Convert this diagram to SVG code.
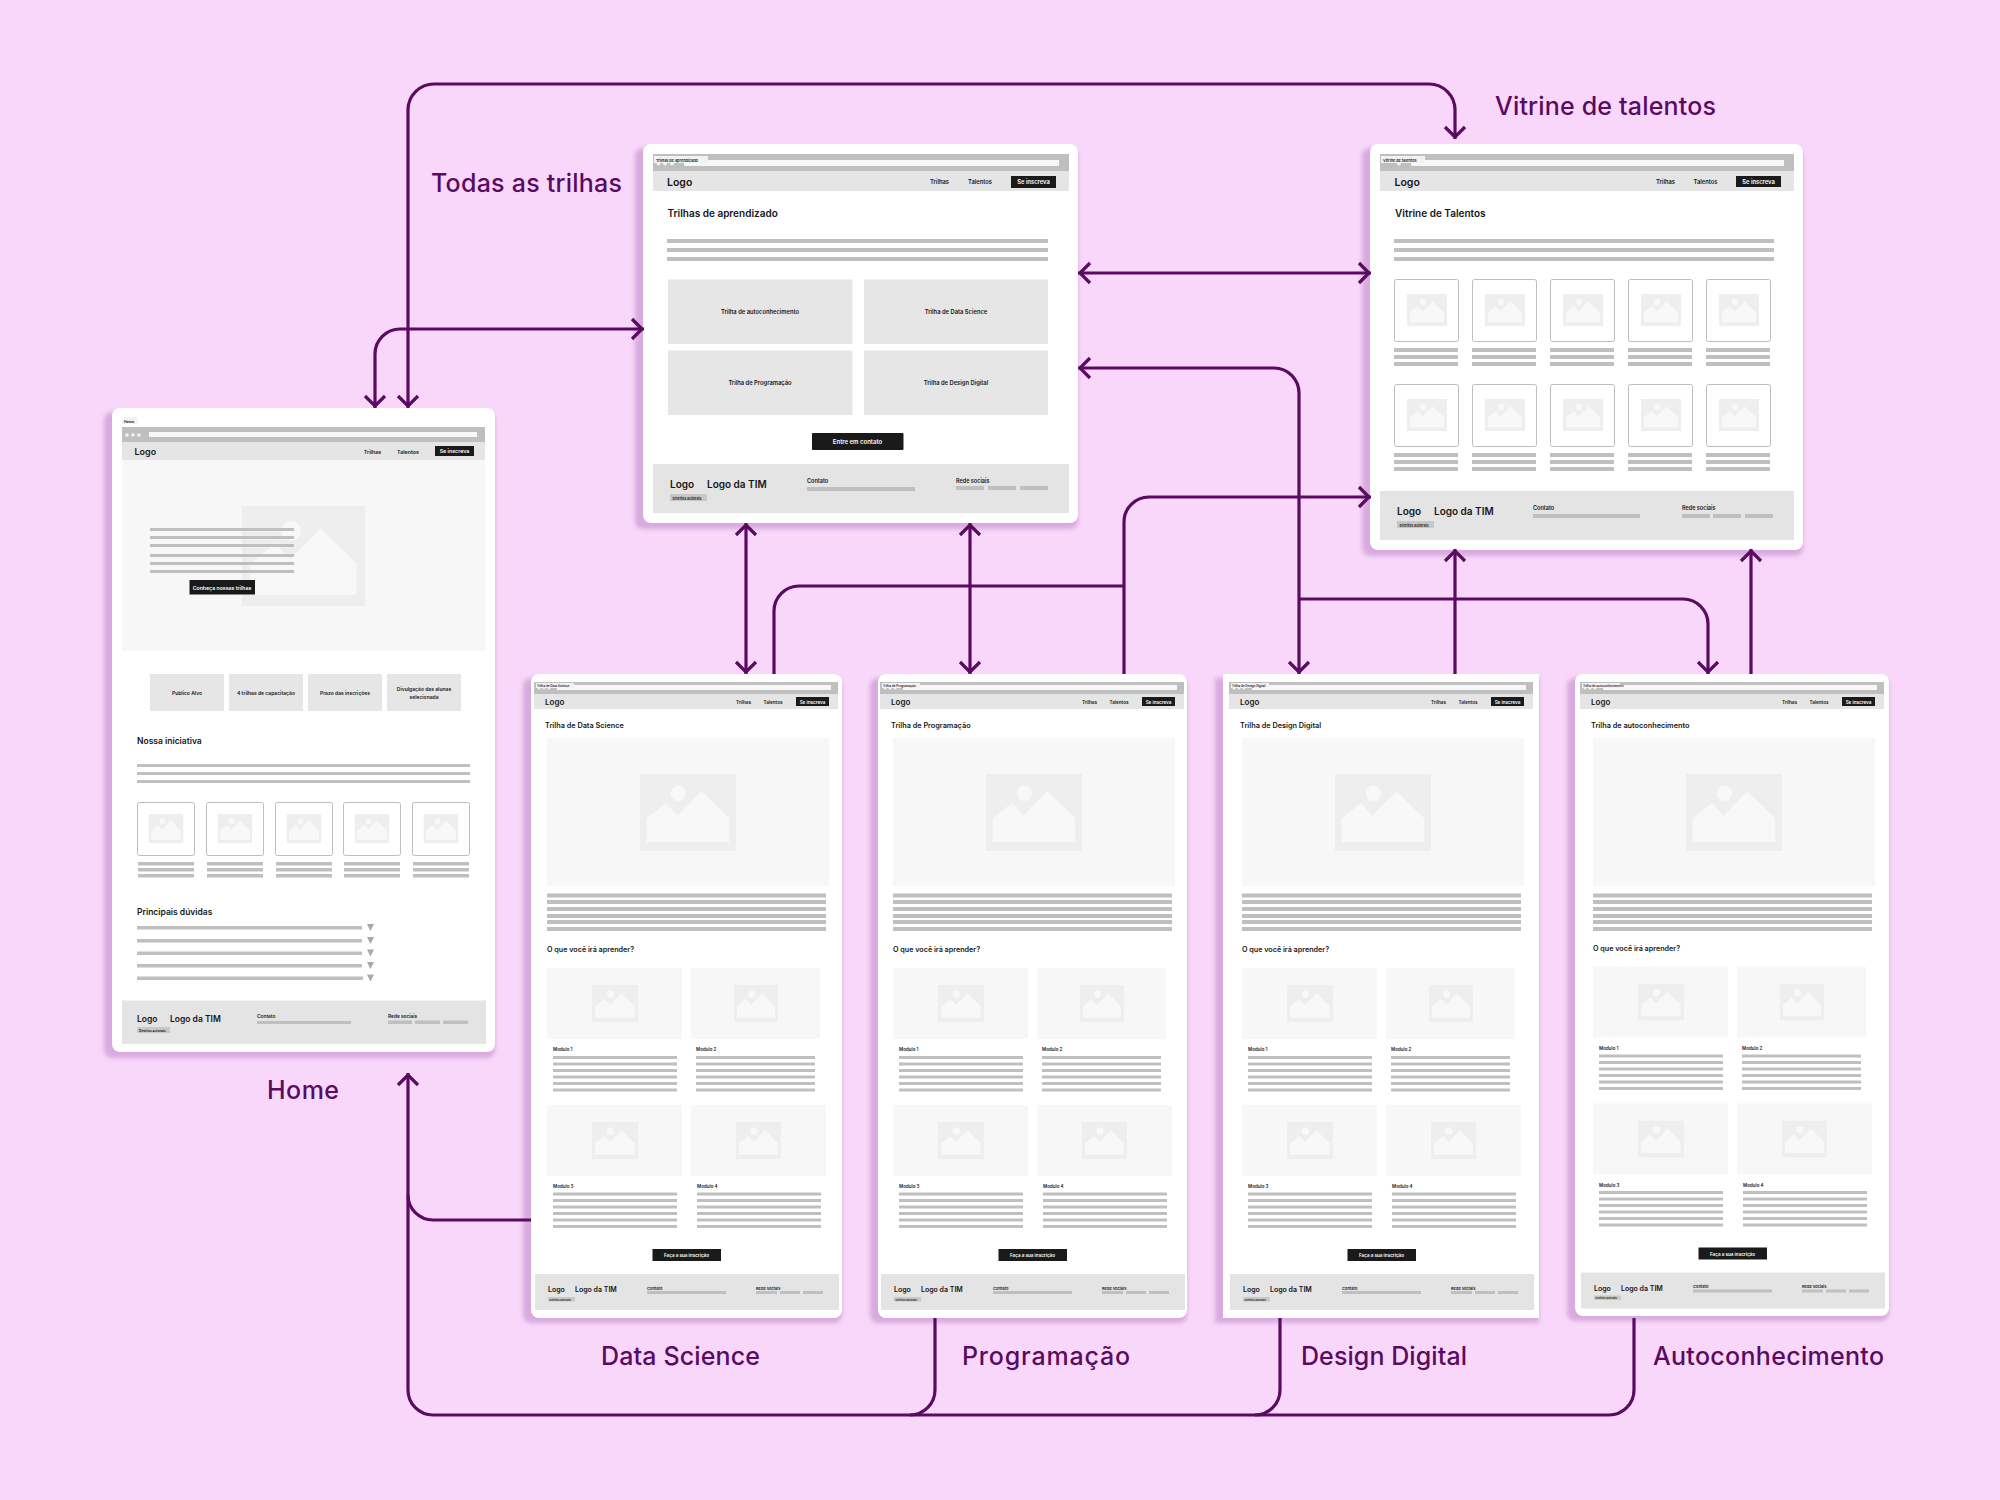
<svg xmlns="http://www.w3.org/2000/svg" xmlns:xlink="http://www.w3.org/1999/xlink" width="2000" height="1500" viewBox="0 0 2000 1500">
<style>
text{font-family:Inter,"Liberation Sans",sans-serif;fill:#161616}
.lab{font-size:25px;fill:#5a0a61;font-weight:500}
.card{fill:#fff}
.sh{fill:#d3a3d9;opacity:.85;filter:url(#blur)}
.b{fill:#bfbfbf}
.bar{fill:#bfbfbf}
.addr{fill:#f7f7f7}
.nav{fill:#e5e5e5}
.foot{fill:#e4e4e4}
.soft{fill:#f7f7f7}
.box{fill:#e6e6e6}
.btn{fill:#1a1a1a}
.tab{fill:#f2f2f2}
.frame{fill:#fff;stroke:#bdbdbd;stroke-width:1}
.tag{fill:#c8c8c8}
.dot{fill:#f2f2f2}
.w{fill:#fff}
.m{font-weight:600}
.s{font-weight:600}
.c{text-anchor:middle}
.conn path{fill:none;stroke:#5a0a61;stroke-width:3.2}
</style>
<defs>
<filter id="blur" x="-10%" y="-10%" width="120%" height="120%"><feGaussianBlur stdDeviation="2"/></filter>
<symbol id="pic" viewBox="0 0 100 80" preserveAspectRatio="none">
<rect width="100" height="80" fill="#eeeeee"/>
<path d="M7 71V46L27 30 39 43 64 18 93 46V71Z" fill="#f8f8f8"/>
<circle cx="40" cy="20" r="8" fill="#f8f8f8"/>
</symbol>
<marker id="ah" viewBox="-12 -13 16 26" refX="2" refY="0" markerWidth="16" markerHeight="26" markerUnits="userSpaceOnUse" orient="auto-start-reverse">
<path d="M-10 -10L0 0L-10 10" fill="none" stroke="#5a0a61" stroke-width="3.2"/>
</marker>
<g id="tile">
<rect class="frame" x="0.5" y="0.5" width="64" height="62" rx="2"/>
<use href="#pic" x="13" y="15" width="40" height="32"/>
<rect class="b" x="0" y="69" width="64" height="4"/>
<rect class="b" x="0" y="76" width="64" height="4"/>
<rect class="b" x="0" y="83" width="64" height="4"/>
</g>
<g id="htile">
<rect class="frame" x="0.5" y="0.5" width="57" height="53" rx="2"/>
<use href="#pic" x="11.5" y="12" width="35" height="29"/>
<rect class="b" x="1" y="60" width="56" height="3.5"/>
<rect class="b" x="1" y="66" width="56" height="3.5"/>
<rect class="b" x="1" y="72" width="56" height="3.5"/>
</g>
<g id="track-top">
<rect class="bar" x="534" y="682" width="304" height="12"/>
<rect class="addr" x="557" y="685" width="274" height="5"/>
<circle class="dot" cx="539" cy="688" r="1.5"/><circle class="dot" cx="544" cy="688" r="1.5"/><circle class="dot" cx="549" cy="688" r="1.5"/>
<rect class="nav" x="534" y="694" width="304" height="15"/>
<rect class="btn" x="796" y="697" width="33" height="9"/>
<rect class="soft" x="547" y="738" width="282" height="148"/>
<use href="#pic" x="640" y="774" width="96" height="77"/>
<rect class="b" x="547" y="893.5" width="279" height="4"/>
<rect class="b" x="547" y="900" width="279" height="4"/>
<rect class="b" x="547" y="907" width="279" height="4"/>
<rect class="b" x="547" y="914" width="279" height="4"/>
<rect class="b" x="547" y="920" width="279" height="4"/>
<rect class="b" x="547" y="927" width="279" height="4"/>
</g>
<g id="six-a">
<rect class="b" x="0" y="0" width="124" height="3"/><rect class="b" x="0" y="6.5" width="124" height="3"/><rect class="b" x="0" y="13" width="124" height="3"/><rect class="b" x="0" y="19.5" width="124" height="3"/><rect class="b" x="0" y="26" width="124" height="3"/><rect class="b" x="0" y="32.5" width="124" height="3"/>
</g>
<g id="six-b">
<rect class="b" x="0" y="0" width="119" height="3"/><rect class="b" x="0" y="6.5" width="119" height="3"/><rect class="b" x="0" y="13" width="119" height="3"/><rect class="b" x="0" y="19.5" width="119" height="3"/><rect class="b" x="0" y="26" width="119" height="3"/><rect class="b" x="0" y="32.5" width="119" height="3"/>
</g>
<g id="track-bottom">
<rect class="soft" x="547" y="968" width="135" height="71"/>
<rect class="soft" x="691" y="968" width="129" height="71"/>
<use href="#pic" x="592" y="985" width="46" height="37"/>
<use href="#pic" x="734" y="985" width="44" height="37"/>
<use href="#six-a" x="553" y="1056"/>
<use href="#six-b" x="696" y="1056"/>
<rect class="soft" x="547" y="1105" width="135" height="71"/>
<rect class="soft" x="691" y="1105" width="135" height="71"/>
<use href="#pic" x="592" y="1122" width="46" height="37"/>
<use href="#pic" x="736" y="1122" width="45" height="37"/>
<use href="#six-a" x="553" y="1192.5"/>
<use href="#six-a" x="697" y="1192.5"/>
<rect class="btn" x="652.5" y="1249" width="68.5" height="12"/>
<rect class="foot" x="535" y="1274" width="304" height="36"/>
<rect class="tag" x="548" y="1297" width="27" height="4.5"/>
<rect class="b" x="647" y="1291" width="79" height="3"/>
<rect class="b" x="756" y="1291" width="21" height="3"/>
<rect class="b" x="780" y="1291" width="20" height="3"/>
<rect class="b" x="803" y="1291" width="20" height="3"/>
</g>
</defs>

<rect id="background" width="2000" height="1500" fill="#f8d7fa"/>

<g id="node-home">
<rect class="sh" x="104" y="412" width="391" height="646" rx="8"/>
<rect class="card" x="112" y="408" width="383" height="644" rx="8"/>
<rect class="tab" x="122" y="417" width="15.5" height="7" rx="1.5"/>
<text x="124" y="422.5" font-size="3.5" class="s">Home</text>
<rect class="bar" x="122" y="427" width="363" height="15"/>
<rect class="addr" x="149" y="432" width="328" height="5"/>
<circle class="dot" cx="127" cy="435" r="1.8"/><circle class="dot" cx="133" cy="435" r="1.8"/><circle class="dot" cx="139" cy="435" r="1.8"/>
<rect class="nav" x="122" y="442" width="363" height="18"/>
<text x="134.500" y="455" font-size="9" class="m">Logo</text>
<text x="372.500" y="453.500" font-size="5.300" class="c m">Trilhas</text>
<text x="408" y="453.500" font-size="5.300" class="c m">Talentos</text>
<rect class="btn" x="435" y="446" width="39" height="10"/>
<text x="454.500" y="453" font-size="5.300" class="c m" style="fill:#fff">Se inscreva</text>
<rect class="soft" x="122" y="460" width="363" height="191"/>
<use href="#pic" x="242" y="506" width="123" height="100"/>
<rect class="b" x="150" y="528" width="144" height="3"/>
<rect class="b" x="150" y="536" width="144" height="3"/>
<rect class="b" x="150" y="544" width="144" height="3"/>
<rect class="b" x="150" y="554" width="144" height="3"/>
<rect class="b" x="150" y="562" width="144" height="3"/>
<rect class="b" x="150" y="570" width="144" height="3"/>
<rect class="btn" x="189.500" y="580" width="65.500" height="14.500"/>
<text x="222" y="589.500" font-size="5.200" class="c m" style="fill:#fff">Conheça nossas trilhas</text>
<rect class="box" x="150" y="674" width="74" height="37"/>
<rect class="box" x="229" y="674" width="74" height="37"/>
<rect class="box" x="308" y="674" width="74" height="37"/>
<rect class="box" x="387" y="674" width="74" height="37"/>
<text x="187" y="694.500" font-size="5" class="c m">Publico Alvo</text>
<text x="266" y="694.500" font-size="5" class="c m">4 trilhas de capacitação</text>
<text x="345" y="694.500" font-size="5" class="c m">Prazo das inscrições</text>
<text x="424" y="690.500" font-size="5" class="c m">Divulgação das alunas</text>
<text x="424" y="698.500" font-size="5" class="c m">selecionada</text>
<text x="137" y="744" font-size="8.500" class="s">Nossa iniciativa</text>
<rect class="b" x="137" y="764" width="333" height="3"/>
<rect class="b" x="137" y="772" width="333" height="3"/>
<rect class="b" x="137" y="780" width="333" height="3"/>
<use href="#htile" x="137" y="802"/>
<use href="#htile" x="206" y="802"/>
<use href="#htile" x="275" y="802"/>
<use href="#htile" x="343" y="802"/>
<use href="#htile" x="412" y="802"/>
<text x="137" y="915" font-size="8.500" class="s">Principais dúvidas</text>
<rect class="b" x="137" y="926" width="225" height="3.500"/>
<rect class="b" x="137" y="939" width="225" height="3.500"/>
<rect class="b" x="137" y="951.500" width="225" height="3.500"/>
<rect class="b" x="137" y="964" width="225" height="3.500"/>
<rect class="b" x="137" y="976.500" width="226" height="3.500"/>
<path fill="#a9a9a9" d="M367 924h7l-3.500 7zM367 937h7l-3.500 7zM367 949.500h7l-3.500 7zM367 962h7l-3.500 7zM367 974.500h7l-3.500 7z"/>
<rect class="foot" x="122" y="1000.500" width="364" height="43.500"/>
<text x="137" y="1022" font-size="8.500" class="m">Logo</text>
<text x="170" y="1022" font-size="8.500" class="m">Logo da TIM</text>
<rect class="tag" x="137" y="1027" width="33" height="6"/>
<text x="139" y="1031.500" font-size="3.400" class="m">Direitos autorais</text>
<text x="257" y="1017.500" font-size="4.800" class="m">Contato</text>
<rect class="b" x="257" y="1021" width="94" height="3"/>
<text x="388" y="1017.500" font-size="4.800" class="m">Rede sociais</text>
<rect class="b" x="388" y="1020.500" width="24" height="3.500"/>
<rect class="b" x="415" y="1020.500" width="25" height="3.500"/>
<rect class="b" x="443" y="1020.500" width="25" height="3.500"/>
</g>

<g id="node-trilhas">
<rect class="sh" x="635" y="148" width="443" height="381" rx="8"/>
<rect class="card" x="643" y="144" width="435" height="379" rx="8"/>
<rect class="bar" x="653" y="154" width="416" height="17"/>
<rect class="addr" x="684" y="160" width="375" height="6"/>
<circle class="dot" cx="658.500" cy="163.500" r="2"/><circle class="dot" cx="665" cy="163.500" r="2"/><circle class="dot" cx="672" cy="163.500" r="2"/>
<rect class="tab" x="654" y="156" width="54" height="7"/>
<text x="656" y="161.500" font-size="3.800" class="m">Trilhas de aprendizado</text>
<rect class="nav" x="653" y="171" width="416" height="20"/>
<text x="667" y="186" font-size="10.500" class="m">Logo</text>
<text x="939.500" y="184" font-size="5.800" class="c m">Trilhas</text>
<text x="980" y="184" font-size="5.800" class="c m">Talentos</text>
<rect class="btn" x="1011" y="176" width="45" height="12"/>
<text x="1033.500" y="184" font-size="5.800" class="c m" style="fill:#fff">Se inscreva</text>
<text x="667.500" y="217" font-size="10" class="s">Trilhas de aprendizado</text>
<rect class="b" x="667" y="239" width="381" height="4"/>
<rect class="b" x="667" y="248" width="381" height="4"/>
<rect class="b" x="667" y="257" width="381" height="4"/>
<rect class="box" x="668" y="279.500" width="184.500" height="64.500"/>
<rect class="box" x="864" y="279.500" width="184" height="64.500"/>
<rect class="box" x="668" y="350.500" width="184.500" height="64.500"/>
<rect class="box" x="864" y="350.500" width="184" height="64.500"/>
<text x="760" y="314" font-size="5.800" class="c m">Trilha de autoconhecimento</text>
<text x="956" y="314" font-size="5.800" class="c m">Trilha de Data Science</text>
<text x="760" y="385" font-size="5.800" class="c m">Trilha de Programação</text>
<text x="956" y="385" font-size="5.800" class="c m">Trilha de Design Digital</text>
<rect class="btn" x="812" y="433" width="91.500" height="17" rx="1"/>
<text x="857.500" y="444" font-size="6" class="c m" style="fill:#fff">Entre em contato</text>
<rect class="foot" x="653" y="464" width="416" height="49"/>
<text x="670" y="488" font-size="10" class="m">Logo</text>
<text x="707" y="488" font-size="10" class="m">Logo da TIM</text>
<rect class="tag" x="670" y="494" width="37" height="7"/>
<text x="672.500" y="499.500" font-size="3.700" class="m">Direitos autorais</text>
<text x="807" y="482.500" font-size="5.500" class="m">Contato</text>
<rect class="b" x="807" y="487" width="108" height="4"/>
<text x="956" y="482.500" font-size="5.500" class="m">Rede sociais</text>
<rect class="b" x="956" y="486" width="28" height="4"/>
<rect class="b" x="988" y="486" width="28" height="4"/>
<rect class="b" x="1020" y="486" width="28" height="4"/>
</g>

<g id="node-vitrine">
<rect class="sh" x="1362" y="148" width="441" height="408" rx="8"/>
<rect class="card" x="1370" y="144" width="433" height="406" rx="8"/>
<rect class="bar" x="1380" y="154" width="414" height="17"/>
<rect class="addr" x="1411" y="160" width="373" height="6"/>
<circle class="dot" cx="1399" cy="163.500" r="2"/>
<rect class="tab" x="1381" y="156" width="44" height="7"/>
<text x="1383" y="161.500" font-size="3.800" class="m">Vitrine de talentos</text>
<rect class="nav" x="1380" y="171" width="414" height="20"/>
<text x="1394.500" y="186" font-size="10.500" class="m">Logo</text>
<text x="1665.500" y="184" font-size="5.800" class="c m">Trilhas</text>
<text x="1705.500" y="184" font-size="5.800" class="c m">Talentos</text>
<rect class="btn" x="1736" y="176" width="45" height="11"/>
<text x="1758.500" y="183.500" font-size="5.800" class="c m" style="fill:#fff">Se inscreva</text>
<text x="1395" y="217" font-size="10" class="s">Vitrine de Talentos</text>
<rect class="b" x="1394" y="239" width="380" height="4"/>
<rect class="b" x="1394" y="248" width="380" height="4"/>
<rect class="b" x="1394" y="257" width="380" height="4"/>
<use href="#tile" x="1394" y="279"/><use href="#tile" x="1472" y="279"/><use href="#tile" x="1550" y="279"/><use href="#tile" x="1628" y="279"/><use href="#tile" x="1706" y="279"/>
<use href="#tile" x="1394" y="384"/><use href="#tile" x="1472" y="384"/><use href="#tile" x="1550" y="384"/><use href="#tile" x="1628" y="384"/><use href="#tile" x="1706" y="384"/>
<rect class="foot" x="1380" y="491" width="414" height="49"/>
<text x="1397" y="515" font-size="10" class="m">Logo</text>
<text x="1434" y="515" font-size="10" class="m">Logo da TIM</text>
<rect class="tag" x="1397" y="521" width="37" height="7"/>
<text x="1399.500" y="526.500" font-size="3.700" class="m">Direitos autorais</text>
<text x="1533" y="509.500" font-size="5.500" class="m">Contato</text>
<rect class="b" x="1533" y="514" width="107" height="4"/>
<text x="1682" y="509.500" font-size="5.500" class="m">Rede sociais</text>
<rect class="b" x="1682" y="514" width="28" height="4"/>
<rect class="b" x="1713" y="514" width="28" height="4"/>
<rect class="b" x="1745" y="514" width="28" height="4"/>
</g>

<g id="node-data-science">
<rect class="sh" x="523" y="678" width="319" height="645" rx="8"/>
<rect class="card" x="531" y="674" width="311" height="644" rx="8"/>
<use href="#track-top"/><use href="#track-bottom"/>
<rect class="tab" x="536" y="683" width="38" height="5"/><text x="537" y="687" font-size="3" class="m">Trilha de Data Science</text>
<text x="545" y="705" font-size="8" class="m">Logo</text>
<text x="743.500" y="703.500" font-size="4.600" class="c m">Trilhas</text><text x="773" y="703.500" font-size="4.600" class="c m">Talentos</text><text x="812.500" y="703.500" font-size="4.600" class="c m" style="fill:#fff">Se inscreva</text>
<text x="545" y="728" font-size="7.300" class="s">Trilha de Data Science</text>
<text x="547" y="952" font-size="7.200" class="s">O que você irá aprender?</text>
<text x="553" y="1051" font-size="4.500" class="m">Modulo 1</text><text x="696" y="1051" font-size="4.500" class="m">Modulo 2</text><text x="553" y="1188" font-size="4.500" class="m">Modulo 3</text><text x="697" y="1188" font-size="4.500" class="m">Modulo 4</text>
<text x="686.500" y="1257" font-size="4.600" class="c m" style="fill:#fff">Faça a sua inscrição</text>
<text x="548" y="1292" font-size="7" class="m">Logo</text><text x="575" y="1292" font-size="7" class="m">Logo da TIM</text>
<text x="549.500" y="1300.500" font-size="2.700" class="m">Direitos autorais</text>
<text x="647" y="1289.500" font-size="4" class="m">Contato</text><text x="756" y="1289.500" font-size="4" class="m">Rede sociais</text>
</g>

<g id="node-programacao">
<rect class="sh" x="870" y="678" width="317" height="645" rx="8"/>
<rect class="card" x="878" y="674" width="309" height="644" rx="8"/>
<g transform="translate(346,0)">
<use href="#track-top"/><use href="#track-bottom"/>
<rect class="tab" x="536" y="683" width="38" height="5"/><text x="537" y="687" font-size="3" class="m">Trilha de Programação</text>
<text x="545" y="705" font-size="8" class="m">Logo</text>
<text x="743.500" y="703.500" font-size="4.600" class="c m">Trilhas</text><text x="773" y="703.500" font-size="4.600" class="c m">Talentos</text><text x="812.500" y="703.500" font-size="4.600" class="c m" style="fill:#fff">Se inscreva</text>
<text x="545" y="728" font-size="7.300" class="s">Trilha de Programação</text>
<text x="547" y="952" font-size="7.200" class="s">O que você irá aprender?</text>
<text x="553" y="1051" font-size="4.500" class="m">Modulo 1</text><text x="696" y="1051" font-size="4.500" class="m">Modulo 2</text><text x="553" y="1188" font-size="4.500" class="m">Modulo 3</text><text x="697" y="1188" font-size="4.500" class="m">Modulo 4</text>
<text x="686.500" y="1257" font-size="4.600" class="c m" style="fill:#fff">Faça a sua inscrição</text>
<text x="548" y="1292" font-size="7" class="m">Logo</text><text x="575" y="1292" font-size="7" class="m">Logo da TIM</text>
<text x="549.500" y="1300.500" font-size="2.700" class="m">Direitos autorais</text>
<text x="647" y="1289.500" font-size="4" class="m">Contato</text><text x="756" y="1289.500" font-size="4" class="m">Rede sociais</text>
</g>
</g>

<g id="node-design-digital">
<rect class="sh" x="1215" y="678" width="324" height="645"/>
<rect class="card" x="1223" y="674" width="316" height="644"/>
<g transform="translate(695,0)">
<use href="#track-top"/><use href="#track-bottom"/>
<rect class="tab" x="536" y="683" width="38" height="5"/><text x="537" y="687" font-size="3" class="m">Trilha de Design Digital</text>
<text x="545" y="705" font-size="8" class="m">Logo</text>
<text x="743.500" y="703.500" font-size="4.600" class="c m">Trilhas</text><text x="773" y="703.500" font-size="4.600" class="c m">Talentos</text><text x="812.500" y="703.500" font-size="4.600" class="c m" style="fill:#fff">Se inscreva</text>
<text x="545" y="728" font-size="7.300" class="s">Trilha de Design Digital</text>
<text x="547" y="952" font-size="7.200" class="s">O que você irá aprender?</text>
<text x="553" y="1051" font-size="4.500" class="m">Modulo 1</text><text x="696" y="1051" font-size="4.500" class="m">Modulo 2</text><text x="553" y="1188" font-size="4.500" class="m">Modulo 3</text><text x="697" y="1188" font-size="4.500" class="m">Modulo 4</text>
<text x="686.500" y="1257" font-size="4.600" class="c m" style="fill:#fff">Faça a sua inscrição</text>
<text x="548" y="1292" font-size="7" class="m">Logo</text><text x="575" y="1292" font-size="7" class="m">Logo da TIM</text>
<text x="549.500" y="1300.500" font-size="2.700" class="m">Direitos autorais</text>
<text x="647" y="1289.500" font-size="4" class="m">Contato</text><text x="756" y="1289.500" font-size="4" class="m">Rede sociais</text>
</g>
</g>

<g id="node-autoconhecimento">
<rect class="sh" x="1567" y="678" width="322" height="643" rx="8"/>
<rect class="card" x="1575" y="674" width="314" height="642" rx="8"/>
<g transform="translate(1046,0)">
<use href="#track-top"/>
<rect class="tab" x="536" y="683" width="38" height="5"/><text x="537" y="687" font-size="3" class="m">Trilha de autoconhecimento</text>
<text x="545" y="705" font-size="8" class="m">Logo</text>
<text x="743.500" y="703.500" font-size="4.600" class="c m">Trilhas</text><text x="773" y="703.500" font-size="4.600" class="c m">Talentos</text><text x="812.500" y="703.500" font-size="4.600" class="c m" style="fill:#fff">Se inscreva</text>
<text x="545" y="728" font-size="7.300" class="s">Trilha de autoconhecimento</text>
<text x="547" y="951" font-size="7.200" class="s">O que você irá aprender?</text>
<g transform="translate(0,-1.500)">
<use href="#track-bottom"/>
<text x="553" y="1051" font-size="4.500" class="m">Modulo 1</text><text x="696" y="1051" font-size="4.500" class="m">Modulo 2</text><text x="553" y="1188" font-size="4.500" class="m">Modulo 3</text><text x="697" y="1188" font-size="4.500" class="m">Modulo 4</text>
<text x="686.500" y="1257" font-size="4.600" class="c m" style="fill:#fff">Faça a sua inscrição</text>
<text x="548" y="1292" font-size="7" class="m">Logo</text><text x="575" y="1292" font-size="7" class="m">Logo da TIM</text>
<text x="549.500" y="1300.500" font-size="2.700" class="m">Direitos autorais</text>
<text x="647" y="1289.500" font-size="4" class="m">Contato</text><text x="756" y="1289.500" font-size="4" class="m">Rede sociais</text>
</g>
</g>
</g>

<g id="connectors" class="conn">
<path marker-start="url(#ah)" marker-end="url(#ah)" d="M408 408V110A26 26 0 0 1 434 84H1429A26 26 0 0 1 1455 110V139"/>
<path marker-start="url(#ah)" marker-end="url(#ah)" d="M375 408V354A25 25 0 0 1 400 329H644"/>
<path marker-start="url(#ah)" marker-end="url(#ah)" d="M1078 273H1371"/>
<path marker-start="url(#ah)" marker-end="url(#ah)" d="M1078 368H1274A25 25 0 0 1 1299 393V674"/>
<path marker-end="url(#ah)" d="M1299 599H1683A25 25 0 0 1 1708 624V674"/>
<path marker-start="url(#ah)" marker-end="url(#ah)" d="M746 523V674"/>
<path marker-start="url(#ah)" marker-end="url(#ah)" d="M970 523V674"/>
<path marker-end="url(#ah)" d="M1124 674V522A25 25 0 0 1 1149 497H1371"/>
<path d="M1124 586H799A25 25 0 0 0 774 611V674"/>
<path marker-end="url(#ah)" d="M1455 674V549"/>
<path marker-end="url(#ah)" d="M1751 674V549"/>
<path marker-end="url(#ah)" d="M1634 1318V1390A25 25 0 0 1 1609 1415H433A25 25 0 0 1 408 1390V1073"/>
<path d="M935 1318V1390A25 25 0 0 1 910 1415"/>
<path d="M1280 1318V1390A25 25 0 0 1 1255 1415"/>
<path d="M531 1220H433A25 25 0 0 1 408 1195"/>
</g>

<g id="labels">
<text class="lab" x="431" y="192" textLength="191">Todas as trilhas</text>
<text class="lab" x="1495" y="115" textLength="221">Vitrine de talentos</text>
<text class="lab" x="267" y="1099" textLength="72">Home</text>
<text class="lab" x="601" y="1365" textLength="159">Data Science</text>
<text class="lab" x="962" y="1365" textLength="168">Programação</text>
<text class="lab" x="1301" y="1365" textLength="166">Design Digital</text>
<text class="lab" x="1653" y="1365" textLength="231">Autoconhecimento</text>
</g>
</svg>
